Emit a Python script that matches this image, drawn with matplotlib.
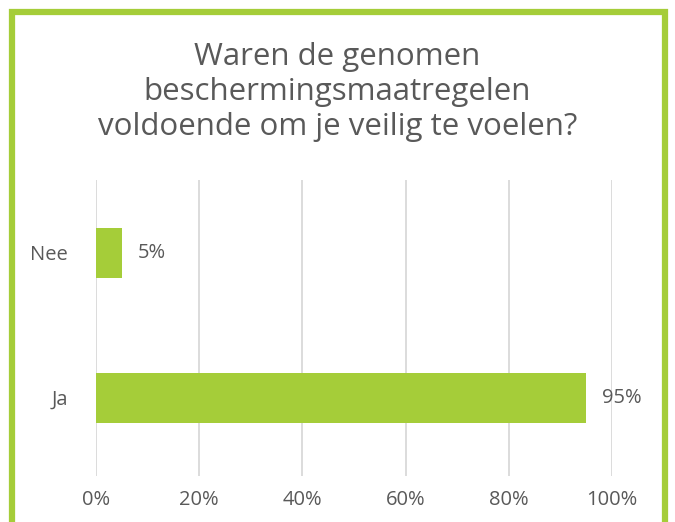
import matplotlib.pyplot as plt
from matplotlib.patches import Rectangle

categories = ['Ja', 'Nee']
values = [95, 5]
value_labels = ['95%', '5%']
x_ticks = [0, 20, 40, 60, 80, 100]
x_tick_labels = ['0%', '20%', '40%', '60%', '80%', '100%']

green = '#A5CD39'
text_gray = '#595959'

fig = plt.figure(figsize=(6.75, 5.22), dpi=100)
plt.rcParams['font.family'] = ['Open Sans', 'DejaVu Sans']

# green frame around the chart
fig.patches.append(Rectangle((12 / 675, -0.05), 653 / 675, 1 - 12 / 522 + 0.05,
                             transform=fig.transFigure, fill=False,
                             edgecolor=green, linewidth=4.5))

ax = fig.add_axes([96 / 675, 1 - 476 / 522, 516 / 675, 296 / 522])
ax.barh(range(len(categories)), values, height=0.345, color=green, zorder=3)
for i, v in enumerate(values):
    ax.text(v + 3, i, value_labels[i], va='center', ha='left', fontsize=14.5, color=text_gray)

ax.set_xlim(0, 100)
ax.set_ylim(-0.54, 1.5)
ax.set_xticks(x_ticks)
ax.set_xticklabels(x_tick_labels, fontsize=14.5, color=text_gray)
ax.set_yticks(range(len(categories)))
ax.set_yticklabels(categories, fontsize=14.5, color=text_gray)
ax.tick_params(length=0, pad=10)
ax.tick_params(axis='y', pad=20)
ax.xaxis.grid(True, color='#d9d9d9', linewidth=1.3, zorder=0)
for s in ax.spines.values():
    s.set_visible(False)

fig.text(0.5, 1 - 92 / 522, 'Waren de genomen\nbeschermingsmaatregelen\nvoldoende om je veilig te voelen?',
         ha='center', va='center', fontsize=22.5, color=text_gray, linespacing=1.22)

plt.savefig('out.png', dpi=100)
